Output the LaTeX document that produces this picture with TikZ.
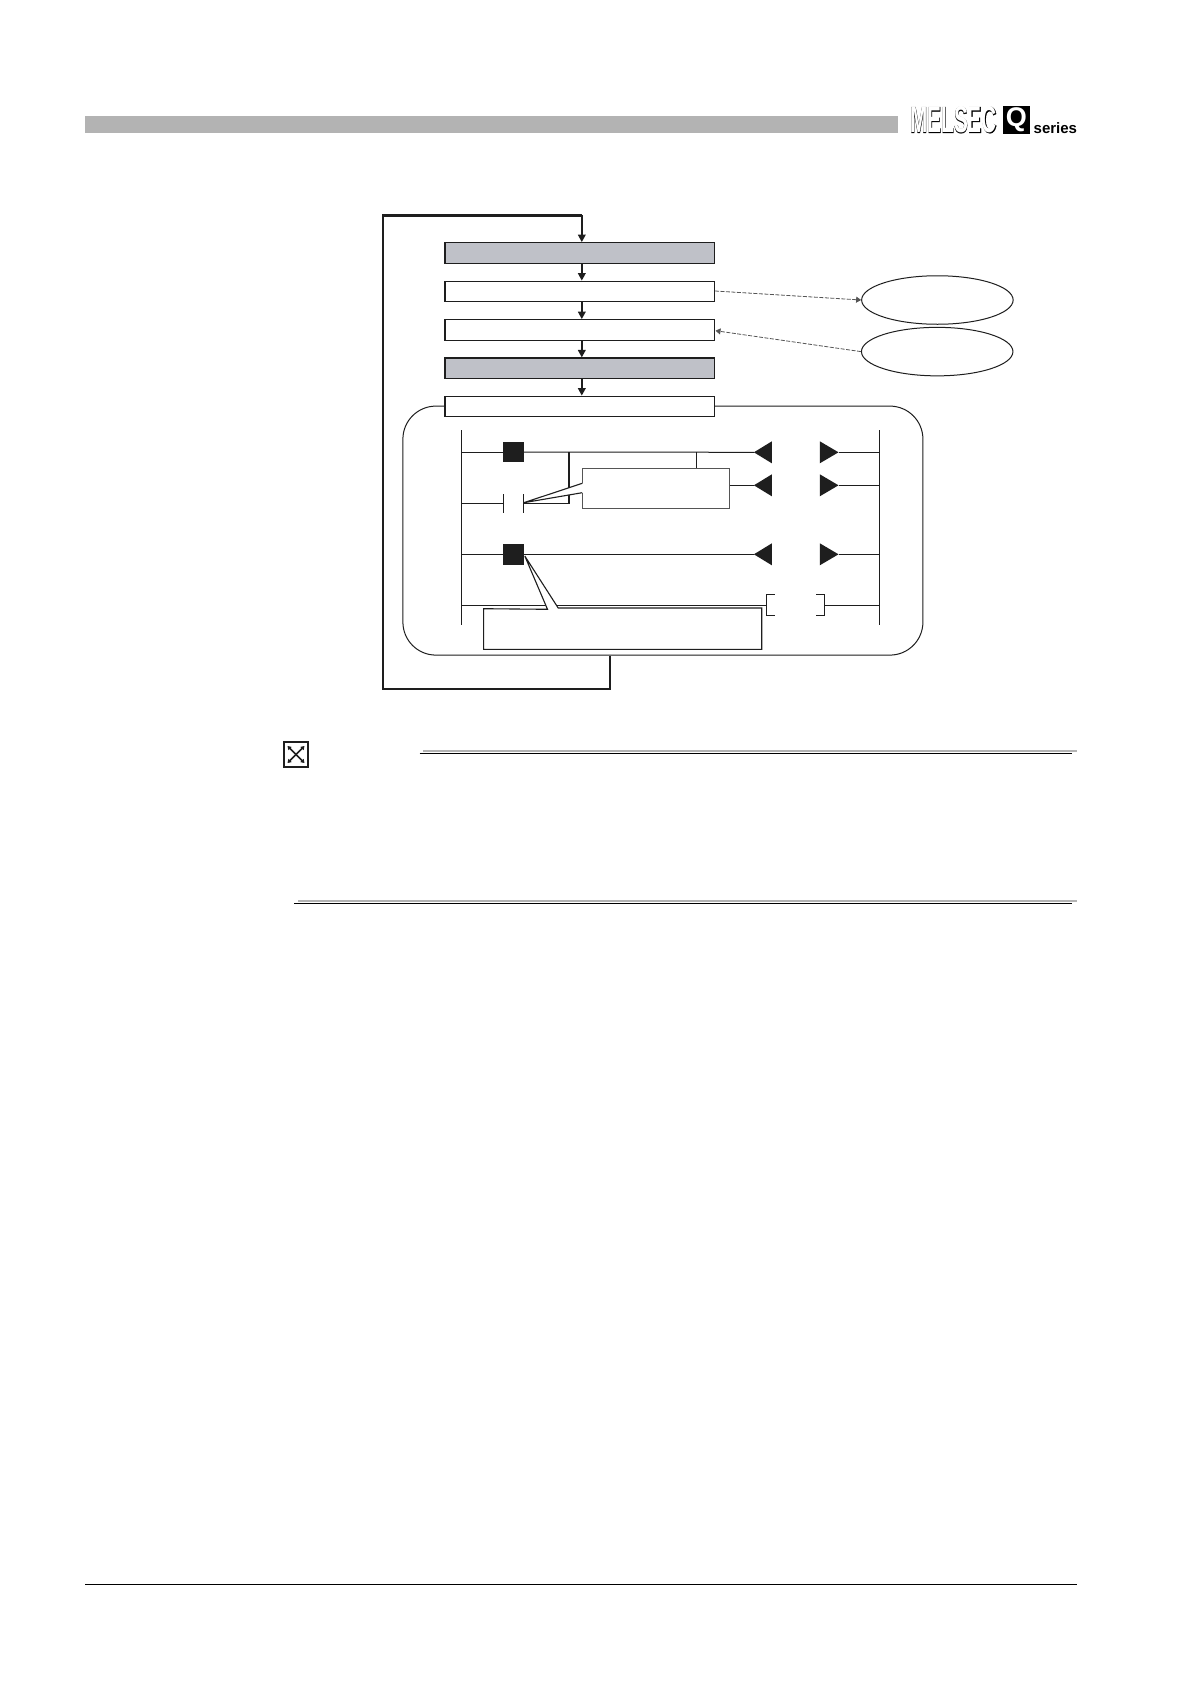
\documentclass[tikz,border=0pt]{standalone}
\usepackage{fontspec}
\usetikzlibrary{arrows.meta,shapes.geometric}
\setmainfont{Liberation Sans}
\newfontfamily\logofat[FakeBold=1.4]{Liberation Sans Bold}
\newfontfamily\logobold{Liberation Sans Bold}
\definecolor{barfill}{HTML}{B3B3B3}
\definecolor{stepfill}{HTML}{BFC1C8}
\definecolor{inkline}{HTML}{1E1E1E}
\definecolor{softline}{HTML}{555555}
\tikzset{
  stepbox/.style={draw=inkline, line width=1.2pt, fill=white, minimum width=269.5pt,
    minimum height=20.5pt, inner sep=0pt},
  greybox/.style={stepbox, fill=stepfill},
  datablob/.style={ellipse, draw=inkline, line width=1pt, fill=white, minimum width=151.5pt,
    minimum height=48.5pt, inner sep=0pt},
  panelbox/.style={draw=inkline, line width=1pt, rounded corners=33pt, minimum width=520pt,
    minimum height=249pt, inner sep=0pt},
  arr/.style={-{Triangle[length=7.5pt,width=7.5pt]}, line width=1.9pt, draw=inkline},
  dasharr/.style={-{Triangle[length=5pt,width=6pt]}, dash pattern=on 4pt off 1.5pt, line width=.8pt, draw=softline},
  loopline/.style={line width=2.4pt, draw=inkline},
  rung/.style={line width=1pt, draw=inkline},
  contactsq/.style={fill=inkline, minimum size=20.6pt, inner sep=0pt},
  tailline/.style={line width=1.1pt, draw=inkline, fill=white, line join=miter},
  rulegrey/.style={line width=2pt, draw=barfill},
  ruleink/.style={line width=1.2pt, draw=black},
  iconarr/.style={{Triangle[length=3.6pt,width=4.4pt]}-{Triangle[length=3.6pt,width=4.4pt]}, line width=1.5pt, draw=inkline}
}
\begin{document}
\begin{tikzpicture}[x=1pt,y=-1pt]
  \useasboundingbox[fill=white] (0,0) rectangle (1190,1684);
  % page header
  \fill[barfill] (85,116) rectangle (898,132.7);
  \node[inner sep=0pt, black] (logoback) at (953.5,120) {\logofat\fontsize{37.5}{37.5}\selectfont\scalebox{.555}[1]{MELSEC}};
  \node[inner sep=0pt, white] (logofront) at (953.5,120) {\logobold\fontsize{37.5}{37.5}\selectfont\scalebox{.555}[1]{MELSEC}};
  \node[fill=black, minimum width=27.3pt, minimum height=28pt, inner sep=0pt, text=white] (qbox) at (1016.3,120)
    {\logobold\fontsize{27}{27}\selectfont Q};
  \node[inner sep=0pt, anchor=base west] (seriestag) at (1033.5,133.3) {\logobold\fontsize{15}{15}\selectfont series};
  \draw[line width=1pt, black] (85,1584.5) -- (1077,1584.5);
  % flow
  \coordinate (trunk) at (581.8,215.3);
  \node[panelbox] (panel) at (662.9,530.6) {};
  \node[greybox] (refreshin) at (579.7,253) {};
  \node[stepbox] (readout) at (579.7,291.5) {};
  \node[stepbox] (operate) at (579.7,330) {};
  \node[greybox] (refreshout) at (579.7,368.3) {};
  \node[stepbox] (program) at (579.7,406.5) {};
  \node[datablob] (blobup) at (937.4,300) {};
  \node[datablob] (blobdown) at (937.2,351.6) {};
  \draw[loopline] (panel.south -| 609.8,0) -- (609.8,688.7) -- (383,688.7) -- (383,215.3) -- (trunk);
  \draw[arr] (trunk) -- (refreshin.north -| trunk);
  \foreach \a/\b in {refreshin/readout,readout/operate,operate/refreshout,refreshout/program}
    \draw[arr] (\a.south -| trunk) -- (\b.north -| trunk);
  \draw[dasharr] (715,291) -- (blobup.west);
  \draw[dasharr] (blobdown.west) -- (715.5,330.7);
  % ladder
  \coordinate (railltop) at (461.3,430);
  \coordinate (raillbot) at (461.3,625);
  \coordinate (railrtop) at (879.8,430);
  \coordinate (railrbot) at (879.8,625);
  \draw[rung] (railltop) -- (raillbot);
  \draw[rung] (railrtop) -- (railrbot);
  \node[contactsq] (sqa) at (513.4,452) {};
  \node[contactsq] (sqc) at (513.4,554.3) {};
  \foreach \n/\y in {a/452.3,b/485.3,c/554.3}{
    \coordinate (tipl\n) at (753.9,\y);
    \coordinate (tipr\n) at (838.5,\y);
    \coordinate (rail\n) at (879.8,\y);
    \fill[inkline] (tipl\n) -- ++(18,-11) -- ++(0,22) -- cycle;
    \fill[inkline] (tipr\n) -- ++(-18.7,-11) -- ++(0,22) -- cycle;
    \draw[rung] (tipr\n) -- (rail\n);
  }
  \draw[rung] (railltop |- sqa) -- (sqa);
  \draw[rung] (sqa) -- (tipla);
  \draw[rung] (railltop |- sqc) -- (sqc);
  \draw[rung] (sqc) -- (tiplc);
  % contact with its branch
  \coordinate (contl) at (503.3,503.3);
  \coordinate (contr) at (523.2,503.3);
  \draw[rung] (railltop |- contl) -- (contl);
  \draw[rung] (contl |- 0,494) -- (contl |- 0,512.7);
  \draw[rung] (contr |- 0,494) -- (contr |- 0,512.7);
  \draw[rung] (contr) -- (569,503.3);
  \draw[line width=1.6pt, inkline] (569,452.3) -- (569,503.9);
  % coil at the bottom rung
  \coordinate (brkl) at (766.2,605.3);
  \coordinate (brkr) at (824.7,605.3);
  \draw[rung] (railltop |- brkl) -- (brkl);
  \draw[rung] (brkr) -- (railrtop |- brkr);
  \draw[rung] (774.5,594.3) -- (766.2,594.3) -- (766.2,615.3) -- (774.5,615.3);
  \draw[rung] (816,594.3) -- (824.7,594.3) -- (824.7,615.3) -- (816,615.3);
  % callouts
  \node[draw=softline, line width=1.2pt, fill=white, minimum width=147.6pt, minimum height=40pt, inner sep=0pt]
    (noteup) at (655.9,488.7) {};
  \draw[rung] (696,452.3) -- (noteup.north -| 696,0);
  \draw[rung] (noteup.east |- tiplb) -- (tiplb);
  \fill[white] (583,483.3) -- (523.8,502.7) -- (583,492.7) -- cycle;
  \draw[tailline, fill=none] (582.2,483.3) -- (523.8,502.7) -- (582.2,492.7);
  \draw[tailline, fill=white] (483.6,608.7) -- (547.5,609.3) -- (524.8,556) -- (558.2,608) -- (761.7,608)
    -- (761.7,649.3) -- (483.6,649.3) -- cycle;
  % note rules
  \draw[rulegrey] (423,751) -- (1077,751);
  \draw[ruleink] (419.5,753.3) -- (1072,753.3);
  \draw[rulegrey] (298,901) -- (1077,901);
  \draw[ruleink] (294,903.3) -- (1072,903.3);
  % broken image mark
  \node[draw=inkline, line width=2.4pt, fill=white, minimum width=23.5pt, minimum height=24.5pt, inner sep=0pt] (noteicon) at (296,754.5) {};
  \draw[iconarr] (287.5,746) -- (304.5,763);
  \draw[iconarr] (304.5,746) -- (287.5,763);
\end{tikzpicture}
\end{document}
